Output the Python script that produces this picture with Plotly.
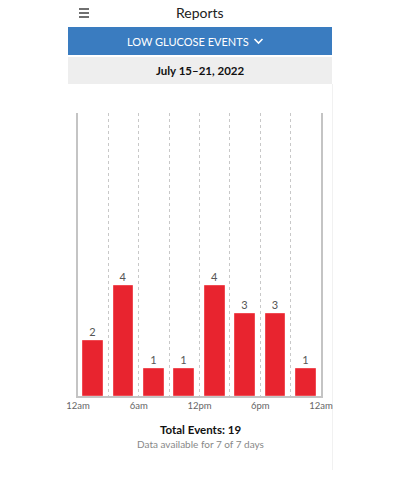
import plotly.graph_objects as go

bin_centers = [1.5, 4.5, 7.5, 10.5, 13.5, 16.5, 19.5, 22.5]
events = [2, 4, 1, 1, 4, 3, 3, 1]
tick_vals = [0, 6, 12, 18, 24]
tick_text = ["12am", "6am", "12pm", "6pm", "12am"]
total_events = 19

W, H = 400, 479
ML, MR, MT, MB = 78, 79, 113, 83
PW, PH = W - ML - MR, H - MT - MB
FONT = "Lato"
LBL = dict(family=FONT, size=11, color="#555555")

fig = go.Figure()
fig.add_trace(go.Bar(
    x=bin_centers, y=events, width=1.95,
    marker=dict(color="#e8242f", line=dict(color="#f04a52", width=1)),
    text=[str(v) for v in events], textposition="outside",
    textfont=LBL, outsidetextfont=LBL, insidetextfont=LBL,
    cliponaxis=False, hoverinfo="skip",
))

def px(x):
    return (x - ML) / PW

def py(y):
    return (H - MB - y) / PH

shapes = [
    dict(type="rect", xref="paper", yref="paper", x0=px(68), x1=px(332), y0=py(55), y1=py(27),
         fillcolor="#3a7cc0", line=dict(width=0), layer="below"),
    dict(type="rect", xref="paper", yref="paper", x0=px(68), x1=px(332), y0=py(84), y1=py(57),
         fillcolor="#eeeeee", line=dict(width=0), layer="below"),
    dict(type="line", xref="paper", yref="paper", x0=px(332.5), x1=px(332.5), y0=py(470), y1=py(84),
         line=dict(color="#f1f1f1", width=1), layer="below"),
    dict(type="path", xref="paper", yref="paper",
         path="M %f,%f L %f,%f L %f,%f" % (px(254.5), py(39), px(258.5), py(43), px(262.5), py(39)),
         line=dict(color="#ffffff", width=1.6)),
]
for yy in (9, 13, 17):
    shapes.append(dict(type="line", xref="paper", yref="paper", x0=px(79), x1=px(89),
                       y0=py(yy), y1=py(yy), line=dict(color="#333333", width=1.4)))

annotations = [
    dict(text="Reports", x=px(200), y=py(12.5), xref="paper", yref="paper", showarrow=False,
         font=dict(family=FONT, size=14, color="#222222"), xanchor="center", yanchor="middle"),
    dict(text="LOW GLUCOSE EVENTS", x=px(250.5), y=py(41.5), xref="paper", yref="paper",
         showarrow=False, font=dict(family=FONT, size=11, color="#ffffff"),
         xanchor="right", yanchor="middle"),
    dict(text="<b>July 15\u201321, 2022</b>", x=px(200), y=py(70.5), xref="paper", yref="paper",
         showarrow=False, font=dict(family=FONT, size=11.5, color="#111111"),
         xanchor="center", yanchor="middle"),
    dict(text="<b>Total Events: %d</b>" % total_events, x=px(200), y=py(429), xref="paper",
         yref="paper", showarrow=False, font=dict(family=FONT, size=11.5, color="#111111"),
         xanchor="center", yanchor="middle"),
    dict(text="Data available for 7 of 7 days", x=px(200), y=py(444.5), xref="paper", yref="paper",
         showarrow=False, font=dict(family=FONT, size=10, color="#888888"),
         xanchor="center", yanchor="middle"),
]

fig.update_layout(
    width=W, height=H, margin=dict(l=ML, r=MR, t=MT, b=MB),
    paper_bgcolor="white", plot_bgcolor="white", showlegend=False,
    font=dict(family=FONT, color="#555555"),
    shapes=shapes, annotations=annotations,
    xaxis=dict(range=[0, 24], tickvals=tick_vals, ticktext=tick_text, showgrid=True,
               gridcolor="#c8c8c8", griddash="3px,3px", gridwidth=1,
               minor=dict(dtick=3, tick0=0, showgrid=True, gridcolor="#c8c8c8",
                          griddash="3px,3px", gridwidth=1),
               showline=True, linecolor="#c4c4c4", linewidth=1.5, ticks="", zeroline=False,
               tickfont=dict(family=FONT, size=9.5, color="#666666"), fixedrange=True),
    yaxis=dict(range=[0, 10.3], showgrid=False, showticklabels=False, ticks="", zeroline=False,
               showline=True, mirror=True, linecolor="#c4c4c4", linewidth=2, fixedrange=True),
    bargap=0,
)

fig.write_html("out.html")
